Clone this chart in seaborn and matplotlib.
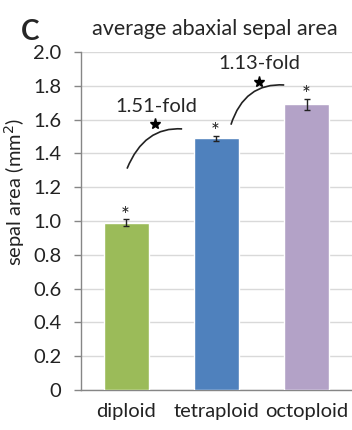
import matplotlib
matplotlib.use("Agg")
import matplotlib.pyplot as plt
import seaborn as sns
import pandas as pd
from matplotlib.path import Path
from matplotlib.patches import PathPatch

# data
ploidy = ["diploid", "tetraploid", "octoploid"]
area = [0.99, 1.49, 1.69]
area_err = [0.02, 0.015, 0.035]
bar_colors = ["#9bbb59", "#4f81bd", "#b3a2c7"]
y_ticks = [0, 0.2, 0.4, 0.6, 0.8, 1.0, 1.2, 1.4, 1.6, 1.8, 2.0]
y_ticklabels = ["0", "0.2", "0.4", "0.6", "0.8", "1.0", "1.2", "1.4", "1.6", "1.8", "2.0"]
fold_labels = ["1.51-fold", "1.13-fold"]

sns.set_style("white")
plt.rcParams["font.family"] = ["Lato", "DejaVu Sans"]

df = pd.DataFrame({"ploidy": ploidy, "area": area})

fig = plt.figure(figsize=(3.52, 4.30), dpi=100)
ax = fig.add_axes([0.230, 0.093, 0.770, 0.786])

sns.barplot(data=df, x="ploidy", y="area", hue="ploidy", palette=bar_colors,
            width=0.5, saturation=1, legend=False, ax=ax, zorder=3)
ax.errorbar(range(len(ploidy)), area, yerr=area_err, fmt="none", ecolor="#222222",
            elinewidth=1.0, capsize=2.5, capthick=1.0, zorder=4)

# significance asterisks above each bar
for i, (v, e) in enumerate(zip(area, area_err)):
    ax.text(i - 0.01, v + e + 0.02, "*", ha="center", va="center", fontsize=15, color="#222222")

# fold-change curves
def curve(p0, c, p1):
    path = Path([p0, c, p1], [Path.MOVETO, Path.CURVE3, Path.CURVE3])
    ax.add_patch(PathPatch(path, fc="none", ec="#222222", lw=1.2, zorder=5))

curve((0.01, 1.31), (0.2, 1.56), (0.62, 1.545))
curve((1.16, 1.57), (1.31, 1.82), (1.75, 1.805))
ax.plot([0.317, 1.472], [1.574, 1.822], ls="none", marker="*", ms=8, color="black", zorder=6)
ax.text(0.33, 1.675, fold_labels[0], ha="center", va="center", fontsize=14.5)
ax.text(1.47, 1.93, fold_labels[1], ha="center", va="center", fontsize=14.5)

ax.set_xlim(-0.5, 2.5)
ax.set_ylim(0, 2.0)
ax.set_yticks(y_ticks)
ax.set_yticklabels(y_ticklabels, fontsize=14.5, color="#222222")
ax.set_xticks(range(len(ploidy)))
ax.set_xticklabels(ploidy, fontsize=14.5, color="#222222")
ax.set_xticks([-0.5, 0.5, 1.5, 2.5], minor=True)
ax.tick_params(axis="x", which="major", length=0, pad=9)
ax.tick_params(axis="x", which="minor", length=5, color="#868686", width=1)
ax.tick_params(axis="y", length=5, color="#868686", width=1, left=True, pad=9)
ax.grid(axis="y", color="#d9d9d9", lw=1, zorder=0)
ax.set_axisbelow(True)
for s in ["top", "right"]:
    ax.spines[s].set_visible(False)
for s in ["left", "bottom"]:
    ax.spines[s].set_color("#868686")
    ax.spines[s].set_linewidth(1)
ax.set_xlabel("")
ax.set_ylabel("sepal area (mm$^2$)", fontsize=14.5, color="#222222", va="center")
ax.yaxis.set_label_coords(-0.245, 0.586)

fig.text(0.611, 0.932, "average abaxial sepal area", ha="center", va="center", fontsize=15.5)
fig.text(0.085, 0.925, "C", ha="center", va="center", fontsize=20, fontweight="bold")

fig.savefig("out.png", dpi=100)
